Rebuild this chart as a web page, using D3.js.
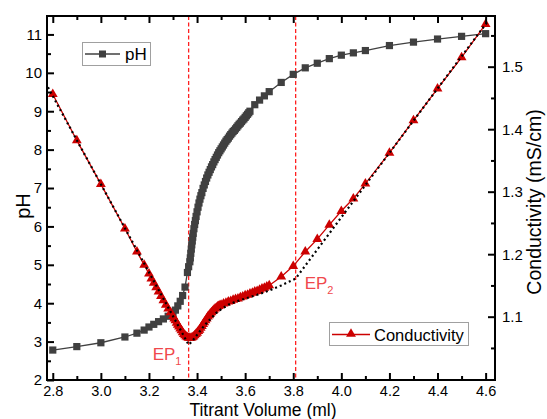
<!DOCTYPE html>
<html>
<head>
<meta charset="utf-8">
<script src="https://cdn.jsdelivr.net/npm/d3@7"></script>
<style>
  html, body { margin: 0; padding: 0; background: #fff; }
  svg { display: block; font-family: Arial, "Liberation Sans", sans-serif; }
</style>
</head>
<body>
<svg id="chart" width="547" height="419"></svg>
<script>
// ---------- DATA ----------
const phVolume = [2.8, 2.9, 3.0, 3.1, 3.15, 3.18, 3.2, 3.22, 3.24, 3.26, 3.28, 3.30, 3.31, 3.32, 3.33, 3.34, 3.35, 3.36, 3.365,
  3.370, 3.372, 3.374, 3.376, 3.378, 3.380, 3.382, 3.384, 3.387, 3.390, 3.393, 3.396, 3.400, 3.404, 3.408, 3.412, 3.416, 3.420,
  3.425, 3.430, 3.435, 3.440, 3.445, 3.450, 3.455, 3.460, 3.465, 3.470, 3.475, 3.480, 3.485, 3.490, 3.495, 3.500, 3.505, 3.510,
  3.515, 3.520, 3.525, 3.530, 3.535, 3.540, 3.545, 3.550, 3.555, 3.560, 3.565, 3.570, 3.575, 3.580, 3.585, 3.590, 3.595, 3.600,
  3.605, 3.610, 3.615, 3.620, 3.64, 3.66, 3.68, 3.70, 3.75, 3.80, 3.85, 3.90, 3.95, 4.00, 4.05, 4.10, 4.20, 4.30, 4.40, 4.50, 4.60];
const phValues = [2.78, 2.87, 2.97, 3.12, 3.22, 3.30, 3.38, 3.45, 3.52, 3.59, 3.66, 3.74, 3.82, 3.93, 4.05, 4.20, 4.42, 4.80, 4.95,
  5.08, 5.18, 5.30, 5.41, 5.52, 5.62, 5.72, 5.82, 5.94, 6.05, 6.15, 6.26, 6.38, 6.50, 6.61, 6.71, 6.80, 6.88,
  6.99, 7.08, 7.17, 7.26, 7.34, 7.41, 7.48, 7.55, 7.61, 7.68, 7.74, 7.80, 7.86, 7.92, 7.97, 8.02, 8.07, 8.12,
  8.17, 8.22, 8.26, 8.30, 8.35, 8.39, 8.43, 8.47, 8.50, 8.54, 8.58, 8.62, 8.66, 8.69, 8.73, 8.77, 8.80, 8.84,
  8.88, 8.92, 8.96, 9.00, 9.17, 9.29, 9.40, 9.51, 9.75, 9.96, 10.13, 10.25, 10.37, 10.46, 10.52, 10.58, 10.71, 10.80, 10.88, 10.95, 11.02];

const condVolume = [2.8, 2.9, 3.0, 3.1, 3.15, 3.18, 3.20, 3.21, 3.22, 3.23, 3.24, 3.25, 3.26, 3.27, 3.28, 3.29, 3.30,
  3.305, 3.31, 3.315, 3.32, 3.325, 3.33, 3.335, 3.34, 3.345, 3.35, 3.355, 3.36, 3.365, 3.37, 3.375, 3.38, 3.385, 3.39, 3.395,
  3.40, 3.405, 3.41, 3.415, 3.42, 3.425, 3.43, 3.435, 3.44, 3.445, 3.45, 3.455, 3.46, 3.465, 3.47, 3.475, 3.48, 3.485, 3.49, 3.495,
  3.50, 3.51, 3.52, 3.53, 3.54, 3.55, 3.56, 3.57, 3.58, 3.59, 3.60, 3.61, 3.62, 3.63, 3.64, 3.65, 3.66, 3.67, 3.68, 3.69, 3.70,
  3.75, 3.80, 3.85, 3.90, 3.95, 4.00, 4.05, 4.10, 4.20, 4.30, 4.40, 4.50, 4.60];
const condValues = [1.456, 1.382, 1.312, 1.241, 1.204, 1.183, 1.169, 1.161, 1.154, 1.147, 1.140, 1.133, 1.126, 1.119, 1.113, 1.107, 1.101,
  1.097, 1.094, 1.090, 1.087, 1.084, 1.081, 1.078, 1.075, 1.072, 1.070, 1.068, 1.067, 1.066, 1.066, 1.066, 1.067, 1.068, 1.070, 1.072,
  1.074, 1.077, 1.079, 1.082, 1.085, 1.088, 1.091, 1.094, 1.097, 1.100, 1.102, 1.105, 1.107, 1.109, 1.111, 1.113, 1.114, 1.116, 1.117, 1.118,
  1.119, 1.121, 1.122, 1.124, 1.125, 1.127, 1.128, 1.129, 1.131, 1.132, 1.134, 1.135, 1.137, 1.138, 1.140, 1.141, 1.143, 1.145, 1.146, 1.148, 1.150,
  1.164, 1.181, 1.204, 1.224, 1.247, 1.269, 1.289, 1.313, 1.362, 1.414, 1.465, 1.515, 1.568];

const fitVolume = [2.78, 3.365, 3.38, 3.40, 3.42, 3.44, 3.46, 3.48, 3.50, 3.53, 3.56, 3.60, 3.65, 3.70, 3.75, 3.81, 4.00, 4.20, 4.40, 4.61];
const fitValues = [1.467, 1.055, 1.061, 1.071, 1.081, 1.090, 1.098, 1.106, 1.112, 1.119, 1.124, 1.129, 1.135, 1.142, 1.150, 1.161, 1.259, 1.362, 1.465, 1.573];

const endPoints = [3.365, 3.81];
const endPointLabels = ["1", "2"];

const xTicks = [2.8, 3.0, 3.2, 3.4, 3.6, 3.8, 4.0, 4.2, 4.4, 4.6];
const xMinorTicks = [2.9, 3.1, 3.3, 3.5, 3.7, 3.9, 4.1, 4.3, 4.5];
const phTicks = [2, 3, 4, 5, 6, 7, 8, 9, 10, 11];
const phMinorTicks = [2.5, 3.5, 4.5, 5.5, 6.5, 7.5, 8.5, 9.5, 10.5];
const condTicks = [1.1, 1.2, 1.3, 1.4, 1.5];
const condMinorTicks = [1.05, 1.15, 1.25, 1.35, 1.45, 1.55];

// ---------- LAYOUT ----------
const L = 47, R = 495, T = 16, B = 380;
const svg = d3.select("#chart");

const x = d3.scaleLinear().domain([2.776, 4.639]).range([L, R]);
const yL = d3.scaleLinear().domain([2, 11.48]).range([B, T]);
const yR = d3.scaleLinear().domain([0.9987, 1.5811]).range([B, T]);

const phColor = "#404040";
const condColor = "#cc0000";
const epColor = "#ff2020";
const epTextColor = "#f0484c";

// EP dashed lines (behind data)
svg.append("g").selectAll("line").data(endPoints).join("line")
  .attr("x1", d => x(d)).attr("x2", d => x(d))
  .attr("y1", T).attr("y2", B)
  .attr("stroke", epColor).attr("stroke-width", 1.3)
  .attr("stroke-dasharray", "4,2.5");

// pH series
const phData = phVolume.map((v, i) => [v, phValues[i]]);
svg.append("path").datum(phData)
  .attr("fill", "none").attr("stroke", phColor).attr("stroke-width", 1.3)
  .attr("d", d3.line().x(d => x(d[0])).y(d => yL(d[1])));
svg.append("g").selectAll("rect").data(phData).join("rect")
  .attr("x", d => x(d[0]) - 3.6).attr("y", d => yL(d[1]) - 3.6)
  .attr("width", 7.2).attr("height", 7.2)
  .attr("fill", phColor);

// Conductivity series
const condData = condVolume.map((v, i) => [v, condValues[i]]);
svg.append("path").datum(condData)
  .attr("fill", "none").attr("stroke", condColor).attr("stroke-width", 1.3)
  .attr("d", d3.line().x(d => x(d[0])).y(d => yR(d[1])));
const tri = d3.symbol().type(d3.symbolTriangle).size(42);
svg.append("g").selectAll("path").data(condData).join("path")
  .attr("transform", d => `translate(${x(d[0])},${yR(d[1])})`)
  .attr("d", tri)
  .attr("fill", condColor);

// Fit (dotted black)
const fitData = fitVolume.map((v, i) => [v, fitValues[i]]);
svg.append("path").datum(fitData)
  .attr("fill", "none").attr("stroke", "#000").attr("stroke-width", 2.2)
  .attr("stroke-dasharray", "2,3")
  .attr("d", d3.line().x(d => x(d[0])).y(d => yR(d[1])));

// EP labels
const epPos = [[x(endPoints[0]) - 36, 360], [x(endPoints[1]) + 9, 289]];
epPos.forEach((p, i) => {
  const t = svg.append("text").attr("x", p[0]).attr("y", p[1])
    .attr("fill", epTextColor).attr("font-size", 17);
  t.append("tspan").text("EP");
  t.append("tspan").attr("font-size", 11).attr("dy", 5).text(endPointLabels[i]);
});

// ---------- AXES ----------
function styleAxis(g, fs) {
  g.select(".domain").remove();
  g.selectAll(".tick line").attr("stroke", "#000").attr("stroke-width", 2);
  g.selectAll(".tick text").attr("font-size", fs || 15).attr("fill", "#000")
    .attr("font-family", "Arial, 'Liberation Sans', sans-serif");
}
svg.append("g").attr("transform", `translate(0,${B})`)
  .call(d3.axisBottom(x).tickValues(xTicks).tickFormat(d3.format(".1f")).tickSize(-7).tickPadding(6)).call(styleAxis, 14.5);
svg.append("g").attr("transform", `translate(0,${B})`)
  .call(d3.axisBottom(x).tickValues(xMinorTicks).tickFormat("").tickSize(-4)).call(styleAxis);
svg.append("g").attr("transform", `translate(0,${T})`)
  .call(d3.axisTop(x).tickValues(xTicks).tickFormat("").tickSize(-7)).call(styleAxis);
svg.append("g").attr("transform", `translate(0,${T})`)
  .call(d3.axisTop(x).tickValues(xMinorTicks).tickFormat("").tickSize(-4)).call(styleAxis);

svg.append("g").attr("transform", `translate(${L},0)`)
  .call(d3.axisLeft(yL).tickValues(phTicks).tickFormat(d3.format("d")).tickSize(-7).tickPadding(5)).call(styleAxis);
svg.append("g").attr("transform", `translate(${L},0)`)
  .call(d3.axisLeft(yL).tickValues(phMinorTicks).tickFormat("").tickSize(-4)).call(styleAxis);

svg.append("g").attr("transform", `translate(${R},0)`)
  .call(d3.axisRight(yR).tickValues(condTicks).tickFormat(d3.format(".1f")).tickSize(-7).tickPadding(7)).call(styleAxis);
svg.append("g").attr("transform", `translate(${R},0)`)
  .call(d3.axisRight(yR).tickValues(condMinorTicks).tickFormat("").tickSize(-4)).call(styleAxis);

// Frame
svg.append("rect").attr("x", L).attr("y", T).attr("width", R - L).attr("height", B - T)
  .attr("fill", "none").attr("stroke", "#000").attr("stroke-width", 2);

// Axis titles
svg.append("text").attr("transform", `translate(30,206) rotate(-90)`)
  .attr("text-anchor", "middle").attr("font-size", 20).text("pH");
svg.append("text").attr("x", 263).attr("y", 415.5)
  .attr("text-anchor", "middle").attr("font-size", 17.5).text("Titrant Volume (ml)");
svg.append("text").attr("transform", `translate(541,202) rotate(-90)`)
  .attr("text-anchor", "middle").attr("font-size", 19.5).text("Conductivity (mS/cm)");

// Legends
const lg1 = svg.append("g");
lg1.append("rect").attr("x", 82.5).attr("y", 42.5).attr("width", 68).attr("height", 23)
  .attr("fill", "#fff").attr("stroke", "#a0a0a0").attr("stroke-width", 1);
lg1.append("line").attr("x1", 85).attr("x2", 120).attr("y1", 54).attr("y2", 54)
  .attr("stroke", phColor).attr("stroke-width", 1.3);
lg1.append("rect").attr("x", 99).attr("y", 50.5).attr("width", 7).attr("height", 7).attr("fill", phColor);
lg1.append("text").attr("x", 125).attr("y", 60).attr("font-size", 17).text("pH");

const lg2 = svg.append("g");
lg2.append("rect").attr("x", 329.5).attr("y", 322.5).attr("width", 139).attr("height", 23)
  .attr("fill", "#fff").attr("stroke", "#a0a0a0").attr("stroke-width", 1);
lg2.append("line").attr("x1", 332).attr("x2", 370).attr("y1", 334.5).attr("y2", 334.5)
  .attr("stroke", condColor).attr("stroke-width", 1.3);
lg2.append("path").attr("transform", "translate(351,334)").attr("d", tri).attr("fill", condColor);
lg2.append("text").attr("x", 374).attr("y", 340.5).attr("font-size", 16.5).text("Conductivity");
</script>
</body>
</html>
